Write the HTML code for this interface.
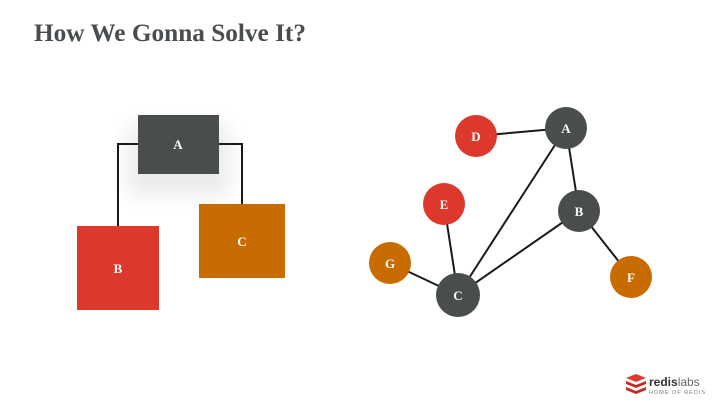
<!DOCTYPE html>
<html><head><style>
body{margin:0;width:720px;height:405px;background:#fff;overflow:hidden;font-family:"Liberation Serif",serif}
</style></head><body>
<svg width="720" height="405" xmlns="http://www.w3.org/2000/svg" style="position:absolute;left:0;top:0">
<defs><filter id="sh" x="-50%" y="-50%" width="200%" height="200%"><feGaussianBlur stdDeviation="10"/></filter></defs>
<text x="34" y="41" font-family="Liberation Serif, serif" font-size="25" font-weight="bold" fill="#4a4d4f" textLength="272" lengthAdjust="spacingAndGlyphs">How We Gonna Solve It?</text>
<rect x="128" y="125" width="101" height="70" fill="#000" opacity="0.08" filter="url(#sh)"/>
<polyline points="118,226 118,144 138,144" fill="none" stroke="#1a1a1a" stroke-width="2"/>
<polyline points="219,144 242,144 242,204" fill="none" stroke="#1a1a1a" stroke-width="2"/>
<rect x="138" y="115" width="81" height="59" fill="#4a4d4e"/>
<rect x="77" y="226" width="82" height="84" fill="#dc382c"/>
<rect x="199" y="204" width="86" height="74" fill="#c86b00"/>
<g font-family="Liberation Serif, serif" font-weight="bold" font-size="13" fill="#fff" text-anchor="middle">
<text x="178" y="149">A</text><text x="118" y="273">B</text><text x="242" y="246">C</text>
</g>
<g stroke="#1a1a1a" stroke-width="2">
<line x1="476" y1="136" x2="566" y2="128"/>
<line x1="566" y1="128" x2="579" y2="211"/>
<line x1="566" y1="128" x2="458" y2="295"/>
<line x1="579" y1="211" x2="458" y2="295"/>
<line x1="579" y1="211" x2="631" y2="277"/>
<line x1="444" y1="204" x2="458" y2="295"/>
<line x1="390" y1="263" x2="458" y2="295"/>
</g>
<circle cx="476" cy="136" r="21" fill="#dc382c"/>
<circle cx="566" cy="128" r="21" fill="#4a4d4e"/>
<circle cx="444" cy="204" r="21" fill="#dc382c"/>
<circle cx="579" cy="211" r="21" fill="#4a4d4e"/>
<circle cx="390" cy="263" r="21" fill="#c86b00"/>
<circle cx="458" cy="295" r="22" fill="#4a4d4e"/>
<circle cx="631" cy="277" r="21" fill="#c86b00"/>
<g font-family="Liberation Serif, serif" font-weight="bold" font-size="13" fill="#fff" text-anchor="middle">
<text x="476" y="141">D</text><text x="566" y="133">A</text><text x="444" y="209">E</text>
<text x="579" y="216">B</text><text x="390" y="268">G</text><text x="458" y="300">C</text><text x="631" y="282">F</text>
</g>
<g transform="translate(626,374)">
<path d="M0,4 L10,0 L20,4 L10,8Z" fill="#e03a2e"/>
<path d="M0,7 L10,11 L20,7 L20,10 L10,14 L0,10Z" fill="#c22a20"/>
<path d="M0,13 L10,17 L20,13 L20,16 L10,20 L0,16Z" fill="#c22a20"/>
</g>
<text x="649" y="386" font-family="Liberation Sans, sans-serif" font-size="12" font-weight="bold" fill="#333">redis<tspan font-weight="normal" fill="#666">labs</tspan></text>
<text x="649" y="394" font-family="Liberation Sans, sans-serif" font-size="5.5" fill="#777" letter-spacing="1">HOME OF REDIS</text>
</svg>
</body></html>
